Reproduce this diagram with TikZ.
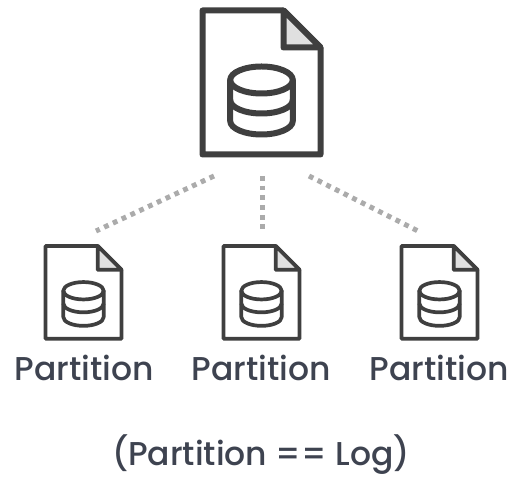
\documentclass[tikz,border=0pt]{standalone}
\usepackage{fontspec}
\newfontfamily\labelfont{Poppins Medium}
\definecolor{ink}{HTML}{3F3F3F}
\definecolor{foldgray}{HTML}{E0E0E0}
\definecolor{dotgray}{HTML}{ABABAB}
\definecolor{labelink}{HTML}{3E4350}
\tikzset{
  x=1pt,y=1pt,
  docline/.style={draw=ink,line join=round,line cap=round},
  dotline/.style={draw=dotgray,line width=5pt,dash pattern=on 4.8pt off 4.9pt},
  lab/.style={text=labelink,font=\labelfont\fontsize{33}{38}\selectfont,inner sep=0pt,anchor=base},
  pics/docicon/.style={code={
    \draw[docline,fill=white] (0,0) -- (81,0) -- (118,-37) -- (118,-144) -- (0,-144) -- cycle;
    \draw[docline,fill=foldgray] (81,0) -- (118,-37) -- (81,-37) -- cycle;
    \draw[docline] (59,-69.5) ellipse [x radius=31.3pt,y radius=13.5pt];
    \draw[docline] (27.7,-69.5) -- (27.7,-110.5) arc[start angle=180,end angle=360,x radius=31.3pt,y radius=13.5pt] -- (90.3,-69.5);
    \draw[docline] (27.7,-89.5) arc[start angle=180,end angle=360,x radius=31.3pt,y radius=13.5pt];
  }}
}
\begin{document}
\begin{tikzpicture}
\useasboundingbox (0,0) rectangle (520,492);
\pic[line width=6pt] at (202.5,481.5) {docicon};
\pic[line width=3.7pt,scale=0.644] at (45.5,246) {docicon};
\pic[line width=3.7pt,scale=0.644] at (223.5,246) {docicon};
\pic[line width=3.7pt,scale=0.644] at (401.5,246) {docicon};
\coordinate (la) at (214,316);
\coordinate (lb) at (96,261);
\coordinate (ma) at (262,316);
\coordinate (mb) at (262,263);
\coordinate (ra) at (309,316);
\coordinate (rb) at (418,261);
\draw[dotline] (la) -- (lb);
\draw[dotline] (ma) -- (mb);
\draw[dotline] (ra) -- (rb);
\node[lab] (p1) at (84,111) {Partition};
\node[lab] (p2) at (261,111) {Partition};
\node[lab] (p3) at (439,111) {Partition};
\node[lab] (note) at (261,26) {(Partition == Log)};
\end{tikzpicture}
\end{document}
